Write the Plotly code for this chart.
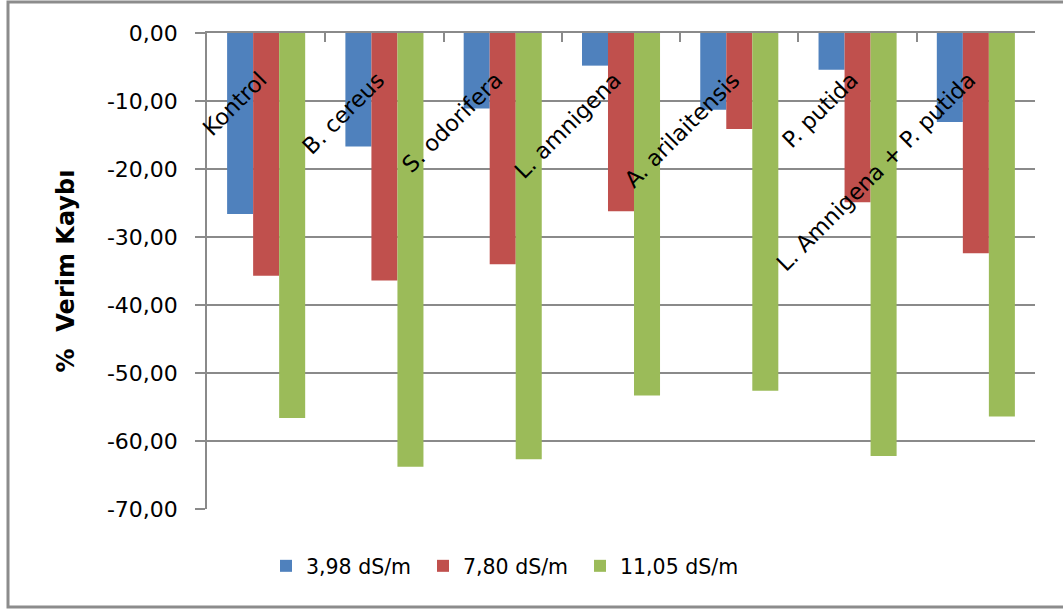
import plotly.graph_objects as go

# Yield loss (%) per treatment at three salinity levels
categories = ["Kontrol", "B. cereus", "S. odorifera", "L. amnigena",
              "A. arilaitensis", "P. putida", "L. Amnigena + P. putida"]
series_names = ["3,98 dS/m", "7,80 dS/m", "11,05 dS/m"]
loss_398 = [-26.6, -16.7, -11.1, -4.8, -11.3, -5.4, -13.1]
loss_780 = [-35.7, -36.4, -34.0, -26.2, -14.1, -24.9, -32.4]
loss_1105 = [-56.6, -63.8, -62.7, -53.3, -52.6, -62.2, -56.4]
y_ticks = [0, -10, -20, -30, -40, -50, -60, -70]
y_tick_labels = ["0,00", "-10,00", "-20,00", "-30,00", "-40,00", "-50,00", "-60,00", "-70,00"]
y_title = "%  Verim Kaybı"

colors = ["#4F81BD", "#C0504D", "#9BBB59"]
FONT = "DejaVu Sans"

W, H = 1063, 610
ML, MR, MT, MB = 207, 28, 33, 101

fig = go.Figure()
for name, vals, col in zip(series_names, [loss_398, loss_780, loss_1105], colors):
    fig.add_trace(go.Bar(
        x=list(range(len(categories))), y=vals, name=name,
        marker=dict(color=col, line=dict(width=0)),
    ))

# Rotated category labels hanging just below the zero line
for i, cat in enumerate(categories):
    fig.add_annotation(
        x=i, y=0, xref="x", yref="y", text=cat, showarrow=False,
        textangle=-45, xanchor="right", yanchor="top",
        xshift=8, yshift=-31,
        font=dict(family=FONT, size=22.5, color="#000000"),
    )

# Outer chart frame
pw, ph = W - ML - MR, H - MT - MB
def px_x(p):
    return (p - ML) / pw
def px_y(p):
    return (H - MB - p) / ph
fig.add_shape(type="rect", xref="paper", yref="paper",
              x0=px_x(8), x1=px_x(1075), y0=px_y(607), y1=px_y(2),
              line=dict(color="#8C8C8C", width=3), layer="below")

fig.update_layout(
    width=W, height=H,
    margin=dict(l=ML, r=MR, t=MT, b=MB),
    paper_bgcolor="white", plot_bgcolor="white",
    barmode="group", bargap=0.34, bargroupgap=0,
    font=dict(family=FONT, size=21, color="#000000"),
    showlegend=True,
    legend=dict(orientation="h", x=px_x(266), xanchor="left",
                y=px_y(546), yanchor="top",
                font=dict(family=FONT, size=20.5),
                itemwidth=30, entrywidth=112, entrywidthmode="pixels",
                traceorder="normal"),
    xaxis=dict(
        type="linear", range=[-0.5, len(categories) - 0.5],
        side="top", showticklabels=False,
        tickmode="array", tickvals=[i - 0.5 for i in range(len(categories) + 1)],
        ticks="inside", ticklen=9, tickcolor="#8A8A8A", tickwidth=1.5,
        showline=True, linecolor="#8A8A8A", linewidth=1.5,
        showgrid=False, zeroline=False,
    ),
    yaxis=dict(
        range=[-70, 0], tickmode="array", tickvals=y_ticks, ticktext=y_tick_labels,
        ticks="outside", ticklen=10, tickcolor="#8A8A8A", tickwidth=1.5,
        ticklabelstandoff=13,
        showline=True, linecolor="#8A8A8A", linewidth=1.5,
        showgrid=True, gridcolor="#8A8A8A", gridwidth=1.5,
        zeroline=False,
        tickfont=dict(family=FONT, size=22, color="#000000"),
        title=dict(text=y_title, font=dict(family=FONT, size=24, weight="bold"), standoff=26),
    ),
)

fig.write_html("out.html")
